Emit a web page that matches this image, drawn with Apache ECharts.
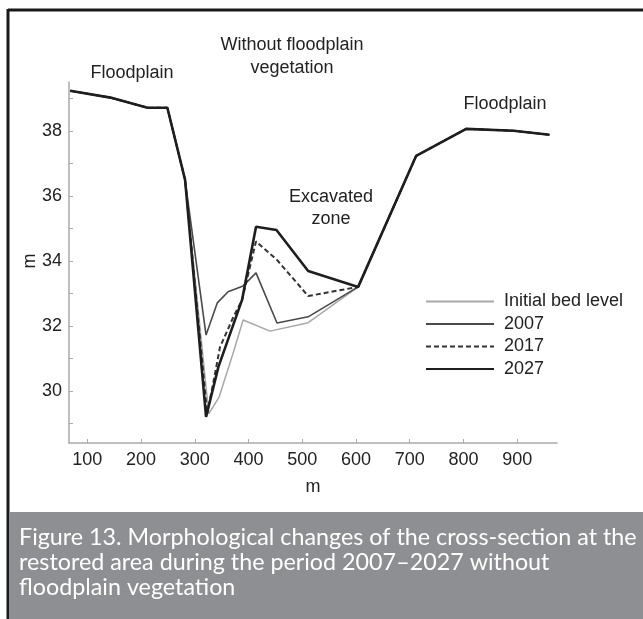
<!DOCTYPE html>
<html>
<head>
<meta charset="utf-8">
<script src="https://cdn.jsdelivr.net/npm/echarts@6/dist/echarts.min.js"></script>
<style>
  html, body { margin: 0; padding: 0; background: #fff; }
  #chart { width: 643px; height: 619px; }
</style>
</head>
<body>
<div id="chart"></div>
<script>
// Cross-section distance (m) and bed elevation (m) for each stage
const initialX = [68, 143, 212, 249, 282, 326, 345, 372, 390, 440, 511, 604, 712, 805, 893, 960];
const initialY = [39.23, 39.02, 38.71, 38.71, 36.49, 29.3, 29.8, 31.2, 32.18, 31.84, 32.1, 33.2, 37.23, 38.06, 38.0, 37.88];

const y2007X = [68, 143, 212, 249, 282, 321, 342, 362, 390, 414, 453, 511, 604, 712, 805, 893, 960];
const y2007Y = [39.23, 39.02, 38.71, 38.71, 36.49, 31.72, 32.71, 33.05, 33.23, 33.63, 32.09, 32.28, 33.2, 37.23, 38.06, 38.0, 37.88];

const y2017X = [68, 143, 212, 249, 282, 323, 335, 347, 372, 388, 414, 453, 511, 604, 712, 805, 893, 960];
const y2017Y = [39.23, 39.02, 38.71, 38.71, 36.49, 29.3, 30.3, 31.35, 32.28, 32.8, 34.6, 34.03, 32.92, 33.2, 37.23, 38.06, 38.0, 37.88];

const y2027X = [68, 143, 212, 249, 282, 321, 344, 388, 414, 452, 511, 604, 712, 805, 893, 960];
const y2027Y = [39.23, 39.02, 38.71, 38.71, 36.49, 29.2, 30.74, 32.8, 35.05, 34.95, 33.69, 33.2, 37.23, 38.06, 38.0, 37.88];

const seriesNames = ['Initial bed level', '2007', '2017', '2027'];
const xTicks = [100, 200, 300, 400, 500, 600, 700, 800, 900];
const yLabels = [30, 32, 34, 36, 38];
const yTicks = [29, 30, 31, 32, 33, 34, 35, 36, 37, 38, 39];

const captionLines = [
  'Figure 13. Morphological changes of the cross-section at the',
  'restored area during the period 2007\u20132027 without',
  'floodplain vegetation'
];

const zip = (xs, ys) => xs.map((x, i) => [x, ys[i]]);

const txt = '#222';
const font = 'Arial, "Liberation Sans", sans-serif';
const fs = 18;

const chart = echarts.init(document.getElementById('chart'), null, { renderer: 'canvas' });

// centred text placed in pixel space
function annot(text, x, y, rot) {
  return {
    type: 'text', x: x, y: y, rotation: rot || 0,
    style: { text: text, fill: txt, fontSize: fs, fontFamily: font, align: 'center', verticalAlign: 'middle' }
  };
}

chart.setOption({
  backgroundColor: '#fff',
  animation: false,
  grid: { left: 69, right: 86, top: 82, bottom: 176, containLabel: false },
  xAxis: {
    type: 'value', min: 66, max: 974,
    name: 'm', nameLocation: 'middle', nameGap: 35,
    nameTextStyle: { color: txt, fontSize: fs, fontFamily: font },
    axisLine: { lineStyle: { color: '#aaa', width: 1.5 } },
    axisTick: { show: true, inside: true, length: 4, customValues: xTicks, lineStyle: { color: '#aaa' } },
    axisLabel: { customValues: xTicks, color: txt, fontSize: fs, fontFamily: font, margin: 8 },
    splitLine: { show: false }
  },
  yAxis: {
    type: 'value', min: 28.4, max: 39.5,
    axisLine: { show: true, lineStyle: { color: '#aaa', width: 1.5 } },
    axisTick: { show: true, inside: true, length: 4, customValues: yTicks, lineStyle: { color: '#aaa' } },
    axisLabel: { customValues: yLabels, color: txt, fontSize: fs, fontFamily: font, margin: 7 },
    splitLine: { show: false }
  },
  legend: {
    orient: 'vertical', left: 420, top: 287.5,
    itemWidth: 68, itemHeight: 14, itemGap: 4.5,
    itemStyle: { opacity: 0 },
    textStyle: { color: txt, fontSize: fs, fontFamily: font, padding: [0, 0, 0, 5] },
    data: seriesNames
  },
  series: [
    { name: seriesNames[0], type: 'line', data: zip(initialX, initialY), symbol: 'none',
      lineStyle: { color: '#a8a8a8', width: 1.5 }, itemStyle: { color: '#a8a8a8' }, z: 1 },
    { name: seriesNames[1], type: 'line', data: zip(y2007X, y2007Y), symbol: 'none',
      lineStyle: { color: '#4a4a4a', width: 1.6 }, itemStyle: { color: '#4a4a4a' }, z: 2 },
    { name: seriesNames[2], type: 'line', data: zip(y2017X, y2017Y), symbol: 'none',
      lineStyle: { color: '#333', width: 2, type: [5, 3] }, itemStyle: { color: '#333' }, z: 3 },
    { name: seriesNames[3], type: 'line', data: zip(y2027X, y2027Y), symbol: 'none',
      lineStyle: { color: '#1e1e1e', width: 2.6 }, itemStyle: { color: '#1e1e1e' }, z: 4 }
  ],
  graphic: [
    // figure frame
    { type: 'line', shape: { x1: 8, y1: 10, x2: 643, y2: 10 }, style: { stroke: '#1a1a1a', lineWidth: 3 } },
    { type: 'line', shape: { x1: 8, y1: 9, x2: 8, y2: 619 }, style: { stroke: '#1a1a1a', lineWidth: 3 } },
    // caption band
    { type: 'rect', shape: { x: 9, y: 512, width: 634, height: 107 }, style: { fill: '#8e8f93' } },
    {
      type: 'text', x: 19, y: 525,
      style: { text: captionLines.join('\n'), fill: '#fff', fontSize: 23.3, fontFamily: 'Lato, "Open Sans", sans-serif', lineHeight: 25 }
    },
    // y-axis unit
    annot('m', 30, 261, Math.PI / 2),
    annot('Floodplain', 132, 73),
    annot('Without floodplain', 292, 45),
    annot('vegetation', 292, 68),
    annot('Floodplain', 505, 104),
    annot('Excavated', 331, 197),
    annot('zone', 331, 219)
  ]
});
</script>
</body>
</html>
